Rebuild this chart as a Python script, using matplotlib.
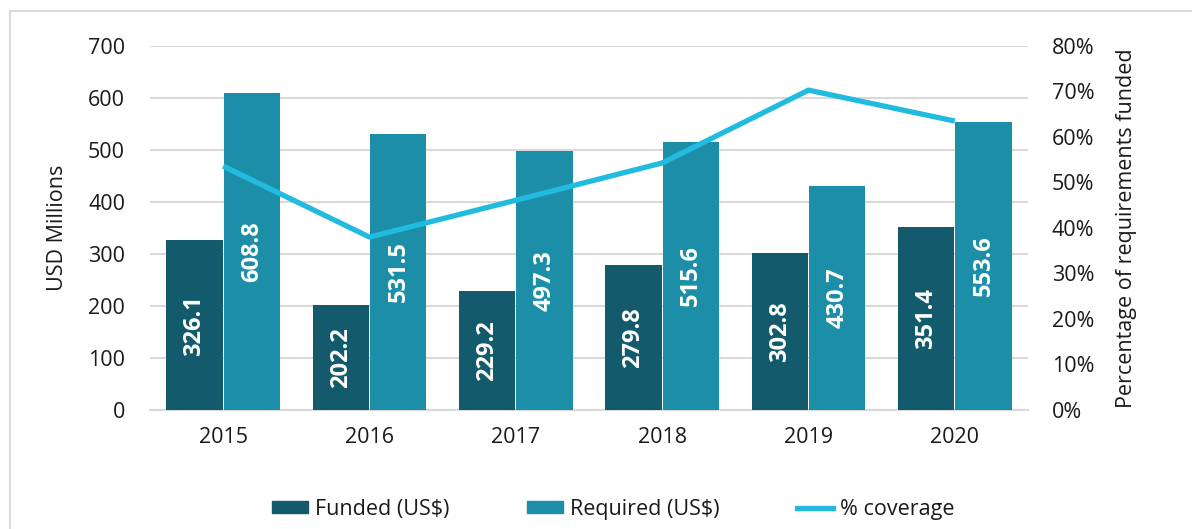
import matplotlib
matplotlib.use("Agg")
import matplotlib.pyplot as plt
import numpy as np
from matplotlib.patches import Rectangle, Patch
from matplotlib.lines import Line2D
from matplotlib.ticker import FuncFormatter

years = ["2015", "2016", "2017", "2018", "2019", "2020"]
funded = [326.1, 202.2, 229.2, 279.8, 302.8, 351.4]
required = [608.8, 531.5, 497.3, 515.6, 430.7, 553.6]
coverage = [53.6, 38.0, 46.1, 54.3, 70.3, 63.5]

c_funded = "#135B6C"
c_required = "#1D8EA8"
c_line = "#22BBE0"
grid_c = "#D9D9D9"
txt_c = "#1A1A1A"

plt.rcParams['font.family'] = ['Open Sans', 'DejaVu Sans']
fs = 15.5

fig = plt.figure(figsize=(11.92, 5.29), dpi=100)
fig.patches.append(Rectangle((10/1192, -0.1), 1.2, 1 - 11/529 + 0.1, transform=fig.transFigure,
                             fill=False, edgecolor="#D9D9D9", linewidth=1.5))
ax = fig.add_axes([150/1192, 1 - 410/529, 878/1192, 364/529])
ax2 = ax.twinx()

x = np.arange(len(years))
w = 0.385
off = 0.197
b1 = ax.bar(x - off, funded, w, color=c_funded, zorder=3)
b2 = ax.bar(x + off, required, w, color=c_required, zorder=3)
for rect, v in list(zip(b1, funded)) + list(zip(b2, required)):
    ax.text(rect.get_x() + rect.get_width()/2, v/2, f"{v:.1f}", rotation=90,
            ha="center", va="center", color="white", fontweight="bold", fontsize=17, zorder=4)

ax.set_xlim(-0.5, 5.5)
ax.set_ylim(0, 700)
ax.set_yticks(range(0, 701, 100))
ax.yaxis.grid(True, color=grid_c, linewidth=1.5, zorder=0)
ax.set_axisbelow(True)
for s in ["top", "right", "left"]:
    ax.spines[s].set_visible(False)
ax.spines["bottom"].set_color(grid_c)
ax.spines["bottom"].set_linewidth(1.5)
ax.set_xticks(x)
ax.set_xticklabels(years)
ax.tick_params(axis="both", length=0, labelsize=fs, colors=txt_c)
ax.tick_params(axis="x", pad=12)
ax.tick_params(axis="y", pad=18)
ax.set_ylabel("USD Millions", fontsize=fs, color=txt_c, labelpad=14)

ax2.plot(x, coverage, color=c_line, linewidth=3.8, solid_capstyle="butt", zorder=5)
ax2.set_ylim(0, 80)
ax2.set_yticks(range(0, 81, 10))
ax2.yaxis.set_major_formatter(FuncFormatter(lambda v, p: f"{int(v)}%"))
for s in ["top", "right", "left", "bottom"]:
    ax2.spines[s].set_visible(False)
ax2.tick_params(axis="y", length=0, labelsize=fs, colors=txt_c, pad=17)
ax2.set_ylabel("Percentage of requirements funded", fontsize=fs, color=txt_c, labelpad=16)

handles = [Patch(color=c_funded), Patch(color=c_required),
           Line2D([0], [0], color=c_line, linewidth=3.8)]
labels = ["Funded (US$)", "Required (US$)", "% coverage"]
fig.legend(handles, labels, loc="center", bbox_to_anchor=(613/1192, 1 - 509/529), ncol=3,
           frameon=False, fontsize=fs, handlelength=1.7, handleheight=0.45,
           columnspacing=3.6, handletextpad=0.3, labelcolor=txt_c)

fig.savefig("out.png", dpi=100)
